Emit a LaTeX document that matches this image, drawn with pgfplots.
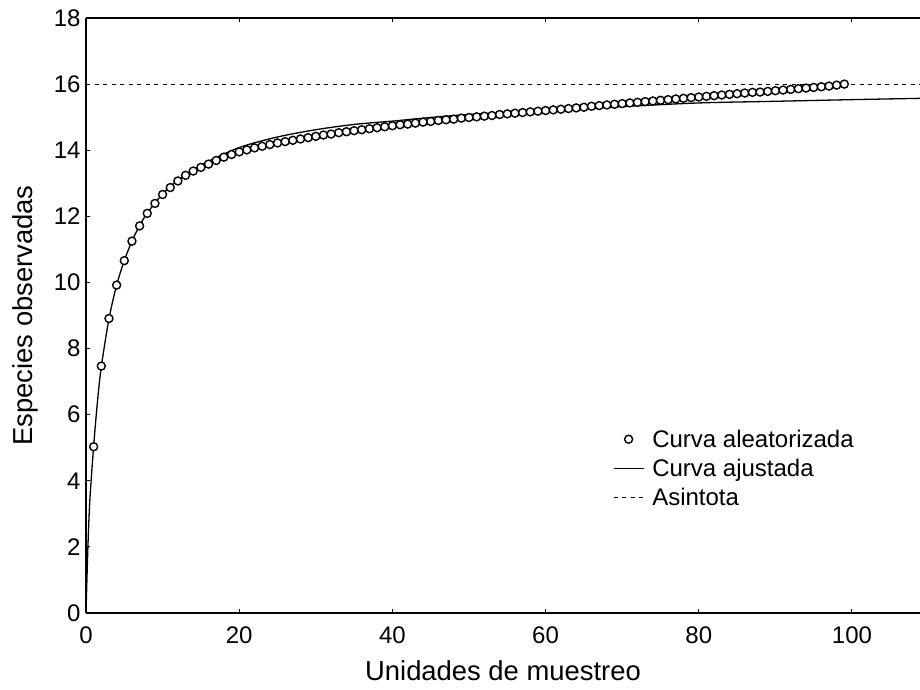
\documentclass[border=0pt]{standalone}
\usepackage{fontspec}
\setmainfont{Liberation Sans}
\usepackage{pgfplots}
\pgfplotsset{compat=1.18}
\pgfplotsset{
  markleg/.style={legend image code/.code={\draw[##1] plot coordinates {(15pt,0pt)};}},
  lineleg/.style={legend image code/.code={\draw[##1] (0pt,0pt) -- (30pt,0pt);}},
}
\begin{document}
\begin{tikzpicture}
\begin{axis}[
  at={(86pt,77pt)}, anchor=south west,
  scale only axis, width=834pt, height=595pt,
  xmin=0, xmax=108.88, ymin=0, ymax=18,
  axis x line*=box, axis y line*=left,
  axis line style={line width=1.6pt},
  xtick={0,20,...,100}, ytick={0,2,...,18},
  tick align=inside, major tick length=4pt,
  tick style={line width=1pt, black},
  /pgf/number format/assume math mode=true,
  tick label style={font=\fontsize{24}{27}\selectfont},
  xticklabel style={yshift=-10pt},
  yticklabel style={xshift=-2pt},
  xlabel={Unidades de muestreo}, ylabel={Especies observadas},
  label style={font=\fontsize{27.4}{31}\selectfont},
  xlabel style={yshift=-10pt},
  ylabel style={yshift=9pt},
  legend cell align=left,
  legend style={draw=none, fill=none, at={(rel axis cs:0.628,0.315)}, anchor=north west,
    font=\fontsize{24}{27}\selectfont, row sep=6.5pt, column sep=6pt},
]
\addplot[markleg, only marks, mark=*, mark size=4pt, mark options={line width=1.4pt, fill=white, draw=black}] coordinates {
(1,5.03) (2,7.47) (3,8.91) (4,9.92) (5,10.66) (6,11.25) (7,11.71) (8,12.09) (9,12.39) (10,12.66)
(11,12.87) (12,13.07) (13,13.24) (14,13.37) (15,13.48) (16,13.58) (17,13.69) (18,13.79) (19,13.87) (20,13.95)
(21,14.01) (22,14.07) (23,14.12) (24,14.17) (25,14.22) (26,14.26) (27,14.30) (28,14.34) (29,14.38) (30,14.42)
(31,14.46) (32,14.49) (33,14.53) (34,14.56) (35,14.59) (36,14.62) (37,14.65) (38,14.68) (39,14.71) (40,14.74)
(41,14.77) (42,14.79) (43,14.82) (44,14.85) (45,14.87) (46,14.90) (47,14.92) (48,14.94) (49,14.97) (50,14.99)
(51,15.01) (52,15.03) (53,15.05) (54,15.08) (55,15.10) (56,15.12) (57,15.14) (58,15.16) (59,15.18) (60,15.20)
(61,15.22) (62,15.24) (63,15.26) (64,15.28) (65,15.30) (66,15.33) (67,15.35) (68,15.37) (69,15.39) (70,15.41)
(71,15.43) (72,15.45) (73,15.47) (74,15.49) (75,15.51) (76,15.53) (77,15.55) (78,15.57) (79,15.59) (80,15.61)
(81,15.63) (82,15.65) (83,15.67) (84,15.69) (85,15.71) (86,15.73) (87,15.75) (88,15.76) (89,15.78) (90,15.80)
(91,15.82) (92,15.84) (93,15.86) (94,15.88) (95,15.90) (96,15.92) (97,15.94) (98,15.97) (99,16.00)
};
\addlegendentry{Curva aleatorizada}
\addplot[lineleg, black, line width=1.3pt, smooth] coordinates {
(0,0) (0.25,2.0) (0.5,3.4) (1,5.05) (1.5,6.4) (2,7.45) (3,8.9) (4,9.92) (5,10.66) (6,11.25) (7,11.72)
(8,12.1) (10,12.68) (12,13.1) (15,13.55) (20,14.08) (25,14.4) (30,14.62) (35,14.78) (40,14.88)
(45,14.99) (50,15.08) (60,15.2) (70,15.32) (80,15.43) (90,15.48) (100,15.53) (109,15.57)
};
\addlegendentry{Curva ajustada}
\addplot[lineleg, black, line width=1pt, dash pattern=on 4pt off 4.5pt] coordinates {(0,16) (108.88,16)};
\addlegendentry{Asintota}
\end{axis}
\pgfresetboundingbox
\useasboundingbox (0,0) rectangle (920pt,690pt);
\end{tikzpicture}
\end{document}
